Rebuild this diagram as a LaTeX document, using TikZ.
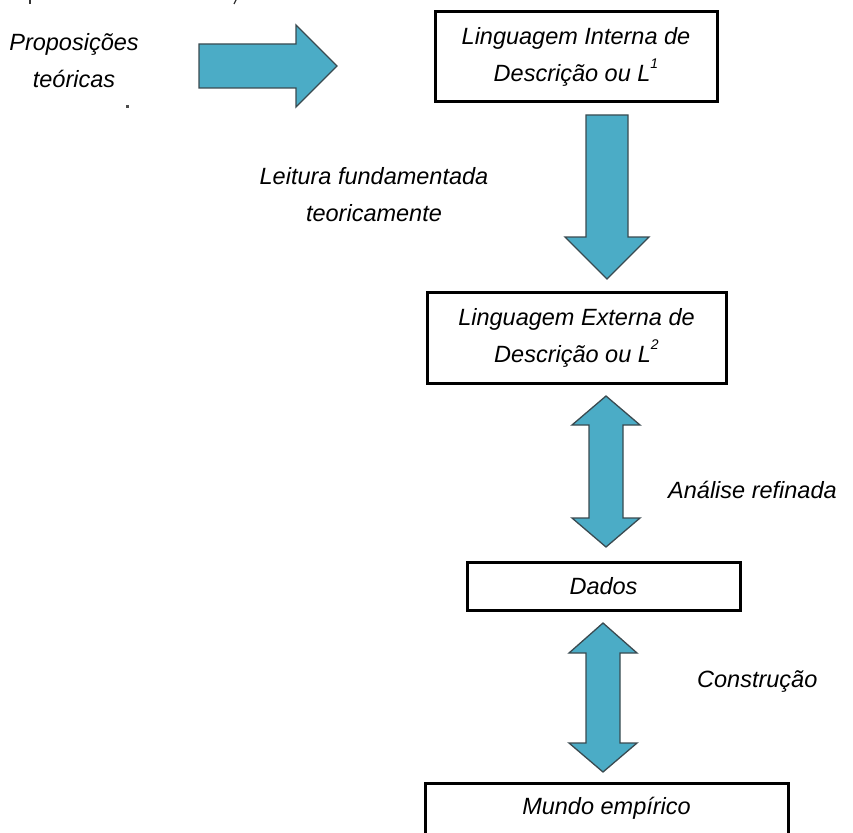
\documentclass[tikz,border=0pt]{standalone}
\usepackage{fontspec}
\setmainfont{Liberation Sans}
% small raised index after a letter
\newcommand{\supidx}[1]{\raisebox{0.55em}{\fontsize{14}{14}\selectfont #1}}
\begin{document}
\begin{tikzpicture}[x=1pt,y=-1pt,
  txt/.style={font=\fontsize{23.5}{37}\selectfont\itshape, align=center, inner sep=0pt},
  box/.style={draw=black, line width=3pt, fill=white, txt},
  blockarrow/.style={fill=arrowblue, draw=arrowline, line width=1.3pt, line join=miter}]
\definecolor{arrowblue}{HTML}{4BACC6}
\definecolor{arrowline}{HTML}{3A4A50}
\useasboundingbox (0,0) rectangle (853,832);
\clip (0,0) rectangle (853,832);

% boxes
\node[box, minimum width=282pt, minimum height=90pt] (l1) at (576,57)
  {Linguagem Interna de\\Descrição ou L\supidx{1}};
\node[box, minimum width=299pt, minimum height=91pt] (l2) at (576.5,337.5)
  {Linguagem Externa de\\Descrição ou L\supidx{2}};
\node[box, minimum width=273pt, minimum height=48pt] (dados) at (603.5,586) {Dados};
\node[box, minimum width=363pt, minimum height=51pt] (mundo) at (606.5,808.5) {Mundo empírico};

% labels
\node[txt] (prop) at (74,61) {Proposições\\teóricas};
\node[txt] (leit) at (374,195) {Leitura fundamentada\\teoricamente};
\node[txt, anchor=west] (anal) at (668,490) {Análise refinada};
\node[txt, anchor=west] (cons) at (697,682) {Construção};

% block arrows
\draw[blockarrow] (199,44) -- (296,44) -- (296,25) -- (337,66) -- (296,107)
  -- (296,88) -- (199,88) -- cycle;
\draw[blockarrow] (586,115) -- (628,115) -- (628,237) -- (649,237) -- (607,279)
  -- (565,237) -- (586,237) -- cycle;
\draw[blockarrow] (606,396) -- (640,425) -- (623,425) -- (623,518) -- (640,518)
  -- (606,547) -- (572,518) -- (589,518) -- (589,425) -- (572,425) -- cycle;
\draw[blockarrow] (603,623) -- (637,653) -- (620,653) -- (620,743) -- (637,743)
  -- (603,772) -- (569,743) -- (586,743) -- (586,653) -- (569,653) -- cycle;

% stray marks
\fill[black!70] (126,105.5) rectangle (128.5,108);
\fill[black!80] (28.5,0) rectangle (30.5,4);
\draw[black!80, line width=1.2pt] (236,0) -- (234,4);
\end{tikzpicture}
\end{document}
